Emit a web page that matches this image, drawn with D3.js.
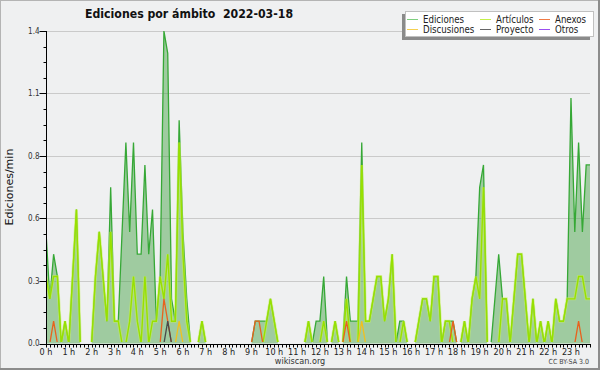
<!DOCTYPE html>
<html>
<head>
<meta charset="utf-8">
<script src="https://cdn.jsdelivr.net/npm/d3@7"></script>
<style>
  html, body { margin: 0; padding: 0; background: #eff0f1; }
  svg { display: block; font-family: 'DejaVu Sans Condensed', 'DejaVu Sans', sans-serif; }
</style>
</head>
<body>
<div id="chart"></div>
<script>
// ---- Data: edits per minute, one value per 10-minute slot (00:00 .. 23:50) ----
const ediciones = [
  0.5, 0.2, 0.4, 0.3, 0, 0.1, 0, 0.3, 0.6, 0, 0, 0,
  0, 0.3, 0.5, 0.3, 0.1, 0.7, 0.1, 0.1, 0.5, 0.9, 0.5, 0.9,
  0.4, 0.4, 0.8, 0.4, 0.6, 0.1, 0.3, 1.4, 1.3, 0.2, 0.1, 1.0,
  0.5, 0.2, 0, 0, 0, 0.1, 0, 0, 0, 0, 0, 0,
  0, 0, 0, 0, 0, 0, 0, 0.1, 0.1, 0.1, 0.1, 0.2,
  0.1, 0, 0, 0, 0, 0, 0, 0, 0, 0.1, 0, 0.1,
  0.1, 0.3, 0, 0, 0.1, 0, 0, 0.3, 0.1, 0.1, 0.1, 0.9,
  0.1, 0.1, 0.2, 0.3, 0.3, 0.1, 0.2, 0.4, 0, 0.1, 0.1, 0,
  0, 0, 0.1, 0.2, 0.2, 0.1, 0.3, 0.3, 0, 0.1, 0.1, 0.1,
  0, 0, 0.1, 0, 0.2, 0.3, 0.7, 0.8, 0, 0, 0.2, 0.4,
  0.2, 0.2, 0, 0.2, 0.4, 0.4, 0.2, 0, 0.2, 0, 0.1, 0,
  0.1, 0, 0.2, 0.1, 0.1, 0.2, 1.1, 0.5, 0.9, 0.5, 0.8, 0.8
];
const articulos = [
  0.3, 0.2, 0.3, 0.3, 0, 0.1, 0, 0.3, 0.6, 0, 0, 0,
  0, 0.3, 0.5, 0.3, 0.1, 0.5, 0.1, 0.1, 0, 0, 0.1, 0.3,
  0.1, 0, 0.3, 0, 0.1, 0.1, 0.3, 0.2, 0.4, 0.1, 0.1, 0.9,
  0.4, 0.1, 0, 0, 0, 0.1, 0, 0, 0, 0, 0, 0,
  0, 0, 0, 0, 0, 0, 0, 0, 0, 0, 0.1, 0.2,
  0.1, 0, 0, 0, 0, 0, 0, 0, 0, 0.1, 0, 0,
  0, 0.1, 0, 0, 0.1, 0, 0, 0.2, 0, 0, 0, 0.8,
  0.1, 0.1, 0.2, 0.3, 0.3, 0.1, 0.2, 0.4, 0, 0, 0.1, 0,
  0, 0, 0.1, 0.2, 0.2, 0.1, 0.3, 0.3, 0, 0.1, 0.1, 0,
  0, 0, 0.1, 0, 0.2, 0.3, 0.2, 0.7, 0, 0, 0, 0,
  0.2, 0.2, 0, 0.2, 0.4, 0.4, 0.2, 0, 0.2, 0, 0.1, 0,
  0.1, 0, 0.2, 0.1, 0.1, 0.2, 0.2, 0.2, 0.3, 0.3, 0.2, 0.2
];
const anexos = [
  0, 0, 0.1, 0, 0, 0, 0, 0, 0, 0, 0, 0,
  0, 0, 0, 0, 0, 0, 0, 0, 0, 0, 0, 0,
  0, 0, 0, 0, 0, 0, 0, 0.2, 0.1, 0, 0, 0,
  0, 0, 0, 0, 0, 0, 0, 0, 0, 0, 0, 0,
  0, 0, 0, 0, 0, 0, 0, 0.1, 0.1, 0, 0, 0,
  0, 0, 0, 0, 0, 0, 0, 0, 0, 0, 0, 0,
  0, 0, 0, 0, 0, 0, 0, 0.1, 0, 0, 0, 0,
  0, 0, 0, 0, 0, 0, 0, 0, 0, 0, 0, 0,
  0, 0, 0, 0, 0, 0, 0, 0, 0, 0, 0, 0.1,
  0, 0, 0, 0, 0, 0, 0, 0, 0, 0, 0, 0,
  0, 0, 0, 0, 0, 0, 0, 0, 0, 0, 0, 0,
  0, 0, 0, 0, 0, 0, 0, 0, 0.1, 0, 0, 0
];
const discusiones = [
  0, 0, 0, 0, 0, 0, 0, 0, 0, 0, 0, 0,
  0, 0, 0, 0, 0, 0, 0, 0, 0, 0, 0, 0,
  0, 0, 0, 0, 0, 0, 0, 0, 0, 0, 0, 0.1,
  0, 0, 0, 0, 0, 0, 0, 0, 0, 0, 0, 0,
  0, 0, 0, 0, 0, 0, 0, 0, 0, 0, 0, 0,
  0, 0, 0, 0, 0, 0, 0, 0, 0, 0, 0, 0,
  0, 0, 0, 0, 0, 0, 0, 0, 0, 0, 0, 0.1,
  0, 0, 0, 0, 0, 0, 0, 0, 0, 0, 0, 0,
  0, 0, 0, 0, 0, 0, 0, 0, 0, 0, 0, 0,
  0, 0, 0, 0, 0, 0, 0, 0, 0, 0, 0, 0,
  0, 0, 0, 0, 0, 0, 0, 0, 0, 0, 0, 0,
  0, 0, 0, 0, 0, 0, 0, 0, 0, 0, 0, 0
];
const proyecto = [
  0, 0, 0, 0, 0, 0, 0, 0, 0, 0, 0, 0,
  0, 0, 0, 0, 0, 0, 0, 0, 0, 0, 0, 0,
  0, 0, 0, 0, 0, 0, 0, 0, 0.1, 0, 0, 0,
  0, 0, 0, 0, 0, 0, 0, 0, 0, 0, 0, 0,
  0, 0, 0, 0, 0, 0, 0, 0, 0, 0, 0, 0,
  0, 0, 0, 0, 0, 0, 0, 0, 0, 0, 0, 0,
  0, 0, 0, 0, 0, 0, 0, 0, 0, 0, 0, 0,
  0, 0, 0, 0, 0, 0, 0, 0, 0, 0, 0, 0,
  0, 0, 0, 0, 0, 0, 0, 0, 0, 0, 0, 0,
  0, 0, 0, 0, 0, 0, 0, 0, 0, 0, 0, 0,
  0, 0, 0, 0, 0, 0, 0, 0, 0, 0, 0, 0,
  0, 0, 0, 0, 0, 0, 0, 0, 0, 0, 0, 0
];

const hourLabels = ['0 h', '1 h', '2 h', '3 h', '4 h', '5 h', '6 h', '7 h', '8 h', '9 h', '10 h', '11 h',
  '12 h', '13 h', '14 h', '15 h', '16 h', '17 h', '18 h', '19 h', '20 h', '21 h', '22 h', '23 h'];
const yTickValues = [0, 0.28, 0.56, 0.84, 1.12, 1.4];
const yTickLabels = ['0.0', '0.3', '0.6', '0.8', '1.1', '1.4'];
const yMinorTicks = [0.07, 0.14, 0.21, 0.35, 0.42, 0.49, 0.63, 0.7, 0.77, 0.91, 0.98, 1.05, 1.19, 1.26, 1.33];

const legendItems = [
  { name: 'Ediciones', color: '#7fcf7f' },
  { name: 'Discusiones', color: '#f5d050' },
  { name: 'Artículos', color: '#c4f04a' },
  { name: 'Proyecto', color: '#666666' },
  { name: 'Anexos', color: '#f07a45' },
  { name: 'Otros', color: '#9b4ff0' }
];

const W = 600, H = 370;
const plot = { left: 46, right: 590, top: 31, bottom: 344 };

const svg = d3.select('#chart').append('svg')
  .attr('width', W).attr('height', H);

// ---- Frame ----
svg.append('rect')
  .attr('x', 0.5).attr('y', 0.5).attr('width', W - 1.5).attr('height', H - 1.5)
  .attr('fill', '#eff0f1').attr('stroke', '#b4b4b4');
svg.append('path')
  .attr('d', `M${W - 1},0V${H - 1}H0`)
  .attr('fill', 'none').attr('stroke', '#8c8c8c').attr('stroke-width', 2);

// ---- Scales ----
const x = d3.scaleLinear().domain([0, ediciones.length - 1]).range([plot.left, plot.right]);
const y = d3.scaleLinear().domain([0, 1.4]).range([plot.bottom - 0.5, plot.top]);

// clip the lines so that zero runs disappear under the x axis
svg.append('defs').append('clipPath').attr('id', 'lineClip')
  .append('rect')
  .attr('x', plot.left).attr('y', 0)
  .attr('width', plot.right - plot.left + 2).attr('height', plot.bottom - 2);

// ---- Grid ----
svg.append('g')
  .selectAll('line').data(yTickValues.slice(1)).join('line')
  .attr('x1', plot.left).attr('x2', plot.right)
  .attr('y1', d => Math.round(y(d)) + 0.5).attr('y2', d => Math.round(y(d)) + 0.5)
  .attr('stroke', '#cacaca').attr('stroke-width', 1);

// ---- Area + lines ----
const area = d3.area()
  .x((_, i) => x(i))
  .y0(y(0))
  .y1(d => y(d));

const line = d3.line()
  .x((_, i) => x(i))
  .y(d => y(d));

svg.append('path')
  .datum(ediciones)
  .attr('d', area)
  .attr('fill', '#3d9e3d')
  .attr('fill-opacity', 0.45);

const series = svg.append('g').attr('clip-path', 'url(#lineClip)');

series.append('path')
  .datum(ediciones)
  .attr('d', line)
  .attr('fill', 'none')
  .attr('stroke', '#36a836')
  .attr('stroke-width', 1.3);

// lime series with a soft halo, like the antialiased original
series.append('path')
  .datum(articulos)
  .attr('d', line)
  .attr('fill', 'none')
  .attr('stroke', '#c6f25a')
  .attr('stroke-width', 3)
  .attr('stroke-opacity', 0.55);

series.append('path')
  .datum(articulos)
  .attr('d', line)
  .attr('fill', 'none')
  .attr('stroke', '#98e000')
  .attr('stroke-width', 1.4);

[[anexos, '#e8621e'], [discusiones, '#f0c020'], [proyecto, '#4a4a4a']].forEach(([data, color]) => {
  series.append('path')
    .datum(data)
    .attr('d', line)
    .attr('fill', 'none')
    .attr('stroke', color)
    .attr('stroke-width', 1.3);
});

// ---- Y axis ----
const yAxis = svg.append('g').attr('transform', `translate(${plot.left + 0.5},0)`);
yAxis.append('line')
  .attr('x1', 0).attr('x2', 0).attr('y1', plot.top).attr('y2', plot.bottom)
  .attr('stroke', '#000');
yAxis.selectAll('.minor').data(yMinorTicks).join('line')
  .attr('class', 'minor')
  .attr('x1', -3).attr('x2', 0)
  .attr('y1', d => Math.round(y(d)) + 0.5).attr('y2', d => Math.round(y(d)) + 0.5)
  .attr('stroke', '#000');
yAxis.selectAll('.major').data(yTickValues).join('line')
  .attr('class', 'major')
  .attr('x1', -7).attr('x2', 0)
  .attr('y1', d => Math.round(y(d)) + 0.5).attr('y2', d => Math.round(y(d)) + 0.5)
  .attr('stroke', '#000');
yAxis.selectAll('text').data(yTickValues).join('text')
  .attr('x', -7).attr('y', d => y(d) + 2.5)
  .attr('text-anchor', 'end')
  .attr('font-size', '8px')
  .attr('fill', '#333')
  .text((_, i) => yTickLabels[i]);

svg.append('text')
  .attr('transform', `translate(13,187) rotate(-90)`)
  .attr('text-anchor', 'middle')
  .attr('font-family', 'DejaVu Sans, sans-serif')
  .attr('font-size', '11px')
  .attr('fill', '#111')
  .text('Ediciones/min');

// ---- X axis ----
const xAxis = svg.append('g').attr('transform', `translate(0,${plot.bottom + 0.5})`);
xAxis.append('line')
  .attr('x1', plot.left).attr('x2', plot.right + 1).attr('y1', 0).attr('y2', 0)
  .attr('stroke', '#000');
xAxis.selectAll('.tick').data(d3.range(ediciones.length)).join('line')
  .attr('class', 'tick')
  .attr('x1', i => Math.round(x(i)) + 0.5).attr('x2', i => Math.round(x(i)) + 0.5)
  .attr('y1', 0).attr('y2', 3)
  .attr('stroke', '#000');
xAxis.selectAll('text').data(hourLabels).join('text')
  .attr('x', (_, h) => x(h * 6))
  .attr('y', 10)
  .attr('text-anchor', 'middle')
  .attr('font-size', '9px')
  .attr('fill', '#222')
  .text(d => d);

// ---- Title & credits ----
svg.append('text')
  .attr('x', 85).attr('y', 18)
  .attr('font-size', '12.2px')
  .attr('font-weight', 'bold')
  .attr('fill', '#111')
  .attr('xml:space', 'preserve')
  .text('Ediciones por ámbito  2022-03-18');

svg.append('text')
  .attr('x', 300).attr('y', 364)
  .attr('text-anchor', 'middle')
  .attr('font-size', '9px')
  .attr('fill', '#333')
  .text('wikiscan.org');

svg.append('text')
  .attr('x', 589).attr('y', 364)
  .attr('text-anchor', 'end')
  .attr('font-size', '7px')
  .attr('fill', '#444')
  .text('CC BY-SA 3.0');

// ---- Legend ----
const legend = svg.append('g');
legend.append('rect')
  .attr('x', 402).attr('y', 14).attr('width', 188).attr('height', 26)
  .attr('fill', '#8a8a8a');
legend.append('rect')
  .attr('x', 405.5).attr('y', 11.5).attr('width', 188).attr('height', 25)
  .attr('fill', '#fff').attr('stroke', '#c0c0c0');

const colX = [407, 480, 539];
const rowY = [19, 29];
legendItems.forEach((d, k) => {
  const cx = colX[Math.floor(k / 2)];
  const cy = rowY[k % 2];
  legend.append('line')
    .attr('x1', cx).attr('x2', cx + 11)
    .attr('y1', cy + 0.5).attr('y2', cy + 0.5)
    .attr('stroke', d.color);
  legend.append('text')
    .attr('x', cx + 16).attr('y', cy + 3.5)
    .attr('font-size', '9.6px')
    .attr('fill', '#222')
    .text(d.name);
});
</script>
</body>
</html>
